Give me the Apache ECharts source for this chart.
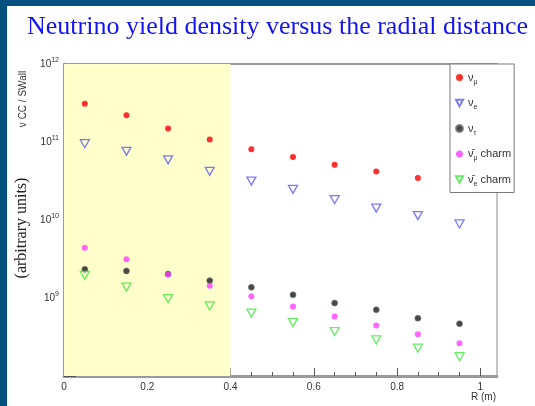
<!DOCTYPE html>
<html>
<head>
<meta charset="utf-8">
<script src="https://cdn.jsdelivr.net/npm/echarts@6/dist/echarts.min.js"></script>
<style>
  html, body { margin: 0; padding: 0; background: #ffffff; }
  #chart { width: 535px; height: 406px; }
</style>
</head>
<body>
<div id="chart"></div>
<script>
// Radial bin centres (m)
const radius = [0.05, 0.15, 0.25, 0.35, 0.45, 0.55, 0.65, 0.75, 0.85, 0.95];

// Yield density per flavour (arbitrary units)
const numu      = [3.1e11, 2.2e11, 1.49e11, 1.08e11, 8.1e10, 6.4e10, 5.1e10, 4.2e10, 3.45e10, 2.8e10];
const nue       = [9.5e10, 7.6e10, 5.9e10, 4.2e10, 3.16e10, 2.47e10, 1.82e10, 1.42e10, 1.14e10, 8.9e9];
const nutau     = [2.33e9, 2.22e9, 2.03e9, 1.67e9, 1.37e9, 1.10e9, 8.6e8, 7.06e8, 5.5e8, 4.67e8];
const numubarCharm = [4.4e9, 3.13e9, 2.0e9, 1.44e9, 1.05e9, 7.8e8, 5.8e8, 4.44e8, 3.44e8, 2.63e8];
const nuebarCharm  = [1.95e9, 1.38e9, 9.8e8, 7.9e8, 6.4e8, 4.85e8, 3.72e8, 2.9e8, 2.27e8, 1.77e8];

// Shaded radial region (m)
const shadedRange = [0, 0.4];

// Axis ticks
const xMajorTicks = [0, 0.2, 0.4, 0.6, 0.8, 1.0];
const xMinorTicks = [0.05, 0.1, 0.15, 0.25, 0.3, 0.35, 0.45, 0.5, 0.55, 0.65, 0.7, 0.75, 0.85, 0.9, 0.95];
const yMajorTicks = [1e8, 1e9, 1e10, 1e11, 1e12];
const yMinorTicks = [];
for (let e = 8; e < 12; e++) {
  for (let m = 2; m <= 9; m++) yMinorTicks.push(m * Math.pow(10, e));
}

// Series names and their legend labels (rich text)
const seriesNames = ['numu', 'nue', 'nutau', 'numubar', 'nuebar'];
const legendLabels = [
  '{g|ν}{s|μ}',
  '{g|ν}{s|e}',
  '{g|ν}{s|τ}',
  '{g|ν̄}{s|μ}{t| charm}',
  '{g|ν̄}{s|e}{t| charm}'
];

// Open, point-down triangle marker
const TRIANGLE_DOWN = 'path://M0,0L10,0L5,9Z';

const SANS = 'Liberation Sans, Arial, Helvetica, sans-serif';
const SERIF = 'Liberation Serif, Times New Roman, serif';

const pts = vals => radius.map((r, i) => [r, vals[i]]);

const chart = echarts.init(document.getElementById('chart'), null, { renderer: 'canvas' });

const xLimits = { min: 0, max: 1.04 };
const yLimits = { min: 1e8, max: 1e12 };

chart.setOption({
  animation: false,
  backgroundColor: '#ffffff',
  title: {
    text: 'Neutrino yield density versus the radial distance',
    left: 22, top: 9,
    textStyle: { fontFamily: SERIF, fontSize: 26, fontWeight: 'normal', color: '#1414ee' }
  },
  graphic: [
    { type: 'rect', left: 0, top: 0, shape: { width: 535, height: 6 }, style: { fill: '#04507e' }, silent: true },
    { type: 'rect', left: 0, top: 0, shape: { width: 7, height: 406 }, style: { fill: '#04507e' }, silent: true },
    {
      type: 'text', x: 23, y: 99, rotation: Math.PI / 2,
      style: { text: 'ν CC / SWall', font: '10px ' + SANS, fill: '#333', align: 'center', verticalAlign: 'middle' }
    },
    {
      type: 'text', x: 22, y: 228, rotation: Math.PI / 2,
      style: { text: '(arbitrary units)', font: '16px ' + SERIF, fill: '#222', align: 'center', verticalAlign: 'middle' }
    },
    {
      type: 'text', x: 496, y: 397,
      style: { text: 'R (m)', font: '10px ' + SANS, fill: '#333', align: 'right', verticalAlign: 'middle' }
    }
  ],
  grid: {
    left: 64, right: 38, top: 64, bottom: 30,
    show: true, borderColor: '#8a8a8a', borderWidth: 1, backgroundColor: 'transparent'
  },
  legend: {
    orient: 'vertical', left: 450, top: 64,
    itemWidth: 7, itemHeight: 7, itemGap: 12,
    padding: [8, 3, 5, 5],
    backgroundColor: '#ffffff', borderColor: '#7a7a7a', borderWidth: 1,
    data: seriesNames,
    formatter: name => legendLabels[seriesNames.indexOf(name)],
    textStyle: {
      rich: {
        g: { fontFamily: SANS, fontSize: 11, color: '#333', lineHeight: 16 },
        s: { fontFamily: SANS, fontSize: 7, color: '#333', lineHeight: 6, verticalAlign: 'bottom' },
        t: { fontFamily: SANS, fontSize: 11, color: '#333', lineHeight: 16 }
      }
    }
  },
  xAxis: [
    {
      type: 'value', position: 'bottom', ...xLimits,
      axisLine: { onZero: false, lineStyle: { color: '#9a9a9a', width: 3 } },
      axisTick: { inside: true, length: 8, customValues: xMajorTicks, lineStyle: { color: '#555', width: 1 } },
      axisLabel: {
        customValues: xMajorTicks, margin: 6,
        fontFamily: SANS, fontSize: 10, color: '#333',
        formatter: v => (v === 0 ? '0' : String(+v.toFixed(1)))
      },
      splitLine: { show: false }
    },
    {
      type: 'value', position: 'bottom', ...xLimits,
      axisLine: { show: false, onZero: false },
      axisTick: { inside: true, length: 4, customValues: xMinorTicks, lineStyle: { color: '#555', width: 1 } },
      axisLabel: { show: false },
      splitLine: { show: false }
    },
    {
      type: 'value', position: 'top', ...xLimits,
      axisLine: { onZero: false, lineStyle: { color: '#9a9a9a', width: 2 } },
      axisTick: { show: false }, axisLabel: { show: false }, splitLine: { show: false }
    }
  ],
  yAxis: [
    {
      type: 'log', logBase: 10, position: 'left', ...yLimits,
      axisLine: { onZero: false, lineStyle: { color: '#9a9a9a', width: 3 } },
      axisTick: { inside: true, length: 12, customValues: yMajorTicks, lineStyle: { color: '#555', width: 1 } },
      axisLabel: {
        customValues: yMajorTicks, margin: 5,
        formatter: v => {
          const e = Math.round(Math.log10(v));
          return e < 9 ? '' : '{b|10}{p|' + e + '}';
        },
        rich: {
          b: { fontFamily: SANS, fontSize: 10, color: '#333', lineHeight: 14 },
          p: { fontFamily: SANS, fontSize: 7, color: '#333', lineHeight: 7, verticalAlign: 'top' }
        }
      },
      splitLine: { show: false }
    },
    {
      type: 'log', logBase: 10, position: 'left', ...yLimits,
      axisLine: { show: false, onZero: false },
      axisTick: { inside: true, length: 6, customValues: yMinorTicks, lineStyle: { color: '#555', width: 1 } },
      axisLabel: { show: false },
      splitLine: { show: false }
    }
  ],
  series: [
    {
      name: 'numu', type: 'scatter', data: pts(numu),
      symbol: 'circle', symbolSize: 6,
      itemStyle: { color: '#ff3030', opacity: 1 },
      markArea: {
        silent: true,
        itemStyle: { color: '#ffffcc' },
        data: [[{ xAxis: shadedRange[0] }, { xAxis: shadedRange[1] }]]
      }
    },
    {
      name: 'nue', type: 'scatter', data: pts(nue),
      symbol: TRIANGLE_DOWN, symbolSize: [9, 8],
      itemStyle: { color: 'rgba(255,255,255,0)', borderColor: '#5a5af5', borderWidth: 1.3 }
    },
    {
      name: 'nutau', type: 'scatter', data: pts(nutau),
      symbol: 'circle', symbolSize: 6,
      itemStyle: { color: '#1a1a1a', borderColor: '#777', borderWidth: 0.8 }
    },
    {
      name: 'numubar', type: 'scatter', data: pts(numubarCharm),
      symbol: 'circle', symbolSize: 6,
      itemStyle: { color: '#ff40ff' }
    },
    {
      name: 'nuebar', type: 'scatter', data: pts(nuebarCharm),
      symbol: TRIANGLE_DOWN, symbolSize: [9, 8],
      itemStyle: { color: 'rgba(255,255,255,0)', borderColor: '#3ee83e', borderWidth: 1.3 }
    }
  ]
});
</script>
</body>
</html>
